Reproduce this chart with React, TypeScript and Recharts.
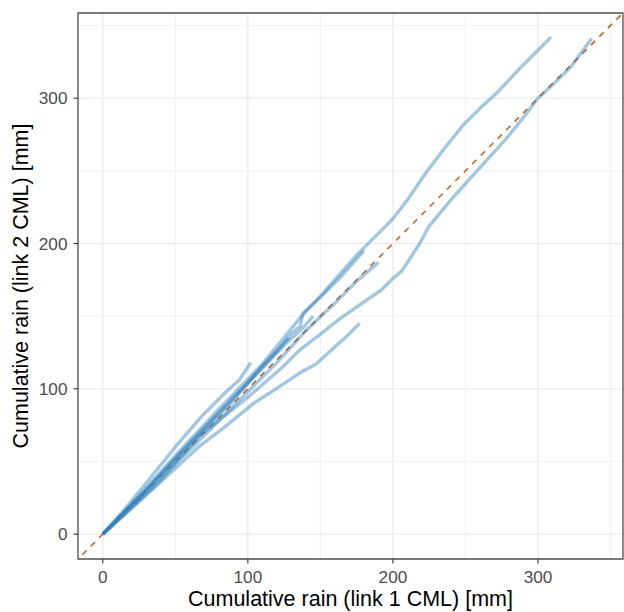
import { LineChart, Line, XAxis, YAxis, CartesianGrid, ReferenceArea } from "recharts";

// cumulative rain pairs [link 1, link 2] in mm, one list per period
const period1: [number, number][] = [
  [0, 0], [20, 21], [50, 54], [80, 86], [110, 117], [137, 150], [152, 166], [175, 192],
  [191, 208], [200, 217], [210, 230], [223, 249], [236, 266], [248, 281], [260, 293],
  [271, 303], [289, 322], [309, 342],
];
const period2: [number, number][] = [
  [0, 0], [20, 18], [40, 37], [67, 68], [101, 95], [124, 115], [136, 127], [148, 136],
  [163, 148], [176, 157], [192, 168], [200, 176], [206, 181], [212, 190], [219, 201],
  [225, 212], [240, 230], [257, 249], [278, 272], [291, 288], [300, 300], [310, 309],
  [323, 322], [337, 341],
];
const period3: [number, number][] = [
  [0, 0], [30, 29], [60, 58], [90, 88], [120, 118], [140, 140], [160, 159], [175, 174],
  [190, 187],
];
const period4: [number, number][] = [
  [0, 0], [20, 18], [40, 36], [66, 60], [83, 73], [104, 90], [121, 101], [136, 111],
  [147, 117], [158, 127], [168, 136], [177, 145],
];
const period5: [number, number][] = [
  [0, 0], [15, 17], [33, 39], [50, 60], [69, 82], [85, 98], [94, 106], [102, 118],
];
const period6: [number, number][] = [
  [0, 0], [25, 25], [50, 52], [75, 78], [100, 104], [120, 126], [130, 138], [136, 143],
  [138, 152], [150, 163], [165, 178], [180, 195],
];
const period7: [number, number][] = [
  [0, 0], [30, 31], [60, 63], [90, 94], [110, 114], [125, 130], [138, 142], [145, 150],
];
const period8: [number, number][] = [
  [0, 0], [30, 30], [60, 61], [90, 92], [110, 116], [120, 126], [128, 135],
];

const periods = [period1, period2, period3, period4, period5, period6, period7, period8];

// 1:1 reference line
const identity: [number, number][] = [[-20, -20], [380, 380]];

const axisMin = -17.1;
const axisMax = 358.6;
const majorTicks = [0, 100, 200, 300];
const minorTicks = [50, 150, 250, 350];

const toPoints = (pairs: [number, number][]) => pairs.map(([x, y]) => ({ x, y }));

const font = '"Liberation Sans", Arial, sans-serif';

export default function App() {
  return (
    <div style={{ position: "absolute", left: 0, top: 0, fontFamily: font }}>
      <LineChart width={624} height={612} margin={{ top: 13, right: 1, bottom: 0, left: 0 }}>
        <CartesianGrid
          stroke="#ebebeb"
          strokeWidth={0.7}
          horizontalValues={minorTicks}
          verticalValues={minorTicks}
        />
        <CartesianGrid
          stroke="#ebebeb"
          strokeWidth={1.3}
          horizontalValues={majorTicks}
          verticalValues={majorTicks}
        />
        <XAxis
          type="number"
          dataKey="x"
          domain={[axisMin, axisMax]}
          ticks={majorTicks}
          allowDataOverflow
          height={53}
          axisLine={false}
          tickLine={{ stroke: "#333333", strokeWidth: 1.1 }}
          tickSize={4.5}
          tickMargin={7}
          tick={{ fill: "#4d4d4d", fontSize: 17.2, fontFamily: font }}
          label={{
            value: "Cumulative rain (link 1 CML) [mm]",
            position: "insideBottom",
            offset: 6,
            fill: "#000000",
            fontSize: 21.5,
            fontFamily: font,
          }}
        />
        <YAxis
          type="number"
          dataKey="y"
          domain={[axisMin, axisMax]}
          ticks={majorTicks}
          allowDataOverflow
          width={78}
          axisLine={false}
          tickLine={{ stroke: "#333333", strokeWidth: 1.1 }}
          tickSize={4.5}
          tickMargin={6}
          tick={{ fill: "#4d4d4d", fontSize: 17.2, fontFamily: font }}
          label={{
            value: "Cumulative rain (link 2 CML) [mm]",
            angle: -90,
            position: "insideLeft",
            offset: 20.5,
            fill: "#000000",
            fontSize: 21.5,
            fontFamily: font,
            style: { textAnchor: "middle" },
          }}
        />
        <Line
          data={toPoints(identity)}
          dataKey="y"
          type="linear"
          stroke="#d4601a"
          strokeWidth={1.6}
          strokeDasharray="6 6"
          dot={false}
          activeDot={false}
          isAnimationActive={false}
        />
        {periods.map((p, i) => (
          <Line
            key={i}
            data={toPoints(p)}
            dataKey="y"
            type="linear"
            stroke="#3182bd"
            strokeOpacity={0.45}
            strokeWidth={3.4}
            strokeLinejoin="round"
            strokeLinecap="butt"
            dot={false}
            activeDot={false}
            isAnimationActive={false}
          />
        ))}
        <ReferenceArea
          x1={axisMin}
          x2={axisMax}
          y1={axisMin}
          y2={axisMax}
          fill="none"
          stroke="#4d4d4d"
          strokeWidth={1.3}
          ifOverflow="visible"
        />
      </LineChart>
    </div>
  );
}
